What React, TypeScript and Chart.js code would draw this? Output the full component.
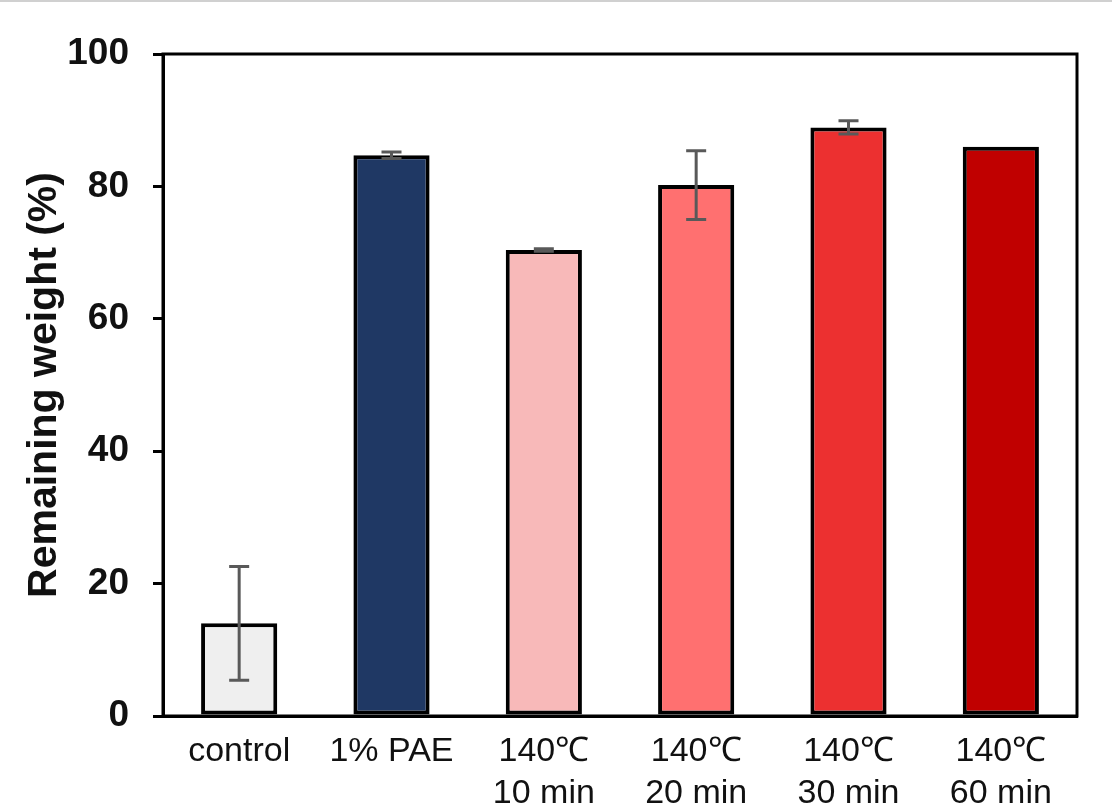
import React, { useEffect, useRef } from "react";
import { Chart, registerables } from "chart.js";

Chart.register(...registerables);

const categories: (string | string[])[] = [
  "control",
  "1% PAE",
  ["140℃", "10 min"],
  ["140℃", "20 min"],
  ["140℃", "30 min"],
  ["140℃", "60 min"],
];
const values = [14.0, 84.7, 70.4, 80.2, 88.9, 86.0];
const errors = [8.6, 0.5, 0.2, 5.2, 1.0, 0];
const barColors = ["#efefef", "#1f3864", "#f8b9b9", "#ff7070", "#ec3030", "#c00000"];
const yTicks = [0, 20, 40, 60, 80, 100];

const FONT = "'Liberation Sans', Arial, sans-serif";

export default function App() {
  const ref = useRef<HTMLCanvasElement | null>(null);

  useEffect(() => {
    if (!ref.current) return;

    const boxPlugin = {
      id: "box",
      afterDatasetsDraw(chart: any) {
        const { ctx, chartArea } = chart;
        ctx.save();
        ctx.strokeStyle = "#000";
        ctx.lineWidth = 3;
        ctx.strokeRect(chartArea.left, chartArea.top, chartArea.right - chartArea.left, chartArea.bottom - chartArea.top);
        ctx.restore();
      },
    };

    const errPlugin = {
      id: "errbars",
      afterDatasetsDraw(chart: any) {
        const { ctx } = chart;
        const meta = chart.getDatasetMeta(0);
        const y = chart.scales.y;
        ctx.save();
        ctx.strokeStyle = "#595959";
        ctx.lineWidth = 3;
        meta.data.forEach((bar: any, i: number) => {
          const e = errors[i];
          if (!e) return;
          const x = bar.x;
          const top = y.getPixelForValue(values[i] + e);
          const bot = y.getPixelForValue(values[i] - e);
          ctx.beginPath();
          ctx.moveTo(x, top);
          ctx.lineTo(x, bot);
          ctx.moveTo(x - 10, top);
          ctx.lineTo(x + 10, top);
          ctx.moveTo(x - 10, bot);
          ctx.lineTo(x + 10, bot);
          ctx.stroke();
        });
        ctx.restore();
      },
    };

    const chart = new Chart(ref.current, {
      type: "bar",
      data: {
        labels: categories as any,
        datasets: [
          {
            data: values,
            backgroundColor: barColors,
            borderColor: "#000",
            borderWidth: 4,
            borderSkipped: false,
            barPercentage: 0.5,
            categoryPercentage: 1,
          },
        ],
      },
      options: {
        animation: false,
        responsive: true,
        maintainAspectRatio: false,
        layout: { padding: { top: 54, right: 35, left: 0, bottom: 0 } },
        plugins: { legend: { display: false }, tooltip: { enabled: false } },
        scales: {
          x: {
            grid: { display: false, drawTicks: false },
            border: { display: true, color: "#000", width: 3 },
            ticks: {
              color: "#111",
              font: { family: FONT, size: 34, lineHeight: 1.22 },
              padding: 15,
              maxRotation: 0,
              autoSkip: false,
            },
            afterFit(scale: any) {
              scale.height = 93;
            },
          },
          y: {
            min: 0,
            max: 100,
            afterBuildTicks(scale: any) {
              scale.ticks = yTicks.map((v) => ({ value: v }));
            },
            grid: {
              drawOnChartArea: false,
              drawTicks: true,
              tickLength: 10,
              color: "#000",
              lineWidth: 3,
            },
            border: { display: true, color: "#000", width: 3 },
            ticks: {
              color: "#111",
              font: { family: FONT, size: 37, weight: "bold" },
              padding: 24,
            },
            title: {
              display: true,
              text: "Remaining weight (%)",
              color: "#111",
              font: { family: FONT, size: 41, weight: "bold" },
              padding: { top: 20, bottom: 0 },
            },
            afterFit(scale: any) {
              scale.width = 163;
            },
          },
        },
      },
      plugins: [boxPlugin, errPlugin],
    });

    return () => chart.destroy();
  }, []);

  return (
    <div style={{ position: "absolute", left: 0, top: 0, width: 1112, height: 809, background: "#fff", overflow: "hidden" }}>
      <div style={{ position: "absolute", left: 0, top: 0, width: 1112, height: 2, background: "#d0d0d0" }} />
      <canvas ref={ref} />
    </div>
  );
}
